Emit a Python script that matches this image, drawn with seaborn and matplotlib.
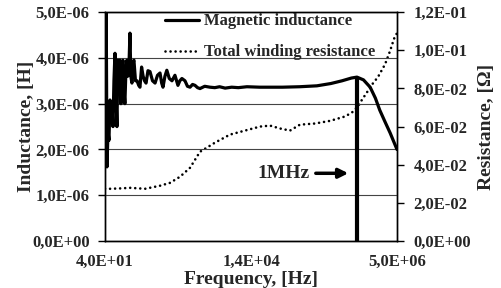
import matplotlib

matplotlib.use("Agg")
import matplotlib.pyplot as plt
import pandas as pd
import seaborn as sns
from matplotlib.ticker import FixedLocator, FuncFormatter

# magnetic inductance, frequency in Hz and inductance in microhenry
ind_freq = [40, 41.6, 43.3, 45.1, 46.9, 48.9, 50.8, 52.9, 55.1, 57.3, 59.7,
            62.1, 64.6, 67.2, 70.0, 72.8, 75.8, 78.9, 82.1, 85.5, 88.9, 92.6,
            96.3, 100, 104, 109, 113, 118, 123, 128, 136, 145, 155, 163, 174,
            185, 196, 208, 225, 244, 270, 299, 330, 365, 390, 411, 445, 480,
            530, 590, 665, 750, 810, 880, 995, 1100, 1220, 1350, 1490, 1650,
            1820, 2200, 2720, 3300, 4000, 5000, 6500, 8500, 12000, 20000,
            50000, 100000, 200000, 350000, 550000, 800000, 1.0e6, 1.3e6,
            1.7e6, 2.1e6, 2.5e6, 3.1e6, 3.8e6, 5.0e6]
ind_uh = [2.5, 6.0, 1.62, 2.4, 2.2, 3.08, 2.6, 3.0, 2.5, 3.5, 4.1, 3.2, 2.5,
          3.95, 3.6, 3.95, 3.0, 3.6, 3.95, 3.3, 3.0, 3.7, 3.95, 3.6, 3.7, 4.54,
          3.6, 3.45, 3.9, 3.95, 3.5, 3.5, 3.4, 3.36, 3.8, 3.6, 3.5, 3.45, 3.72,
          3.7, 3.5, 3.45, 3.62, 3.67, 3.45, 3.36, 3.6, 3.73, 3.55, 3.5, 3.62,
          3.4, 3.5, 3.55, 3.5, 3.38, 3.36, 3.42, 3.4, 3.35, 3.33, 3.38, 3.36,
          3.35, 3.37, 3.34, 3.36, 3.35, 3.37, 3.36, 3.36, 3.37, 3.39, 3.44,
          3.5, 3.56, 3.58, 3.52, 3.36, 3.12, 2.86, 2.6, 2.36, 2.0]

# total winding resistance, ohm
res_freq = [40, 49, 75, 109, 200, 365, 545, 815, 1220, 1820, 2410, 3330, 6080,
            11100, 20300, 30400, 45400, 67800, 101000, 185000, 339000, 620000,
            820000, 1.04e6, 1.22e6, 1.5e6, 1.83e6, 2.33e6, 3.09e6, 3.77e6,
            4.43e6, 5.0e6]
res_ohm = [0.0274, 0.0274, 0.0276, 0.0279, 0.0274, 0.029, 0.0305, 0.0337,
           0.0384, 0.0468, 0.049, 0.0516, 0.0558, 0.0579, 0.060, 0.0605,
           0.059, 0.0579, 0.061, 0.0616, 0.063, 0.0653, 0.0674, 0.0705, 0.074,
           0.078, 0.082, 0.086, 0.0926, 0.0995, 0.106, 0.109]

x_ticks = [40, 14142, 5.0e6]
x_tick_labels = ["4,0E+01", "1,4E+04", "5,0E+06"]
mark_freq = 1.0e6
mark_uh = 3.58

ind = pd.DataFrame({"f": ind_freq, "L": [v * 1e-6 for v in ind_uh]})
res = pd.DataFrame({"f": res_freq, "R": res_ohm})

sns.set_style("ticks")
plt.rcParams["font.family"] = ["Liberation Serif", "DejaVu Serif"]
plt.rcParams["font.weight"] = "bold"

fig = plt.figure(figsize=(5.01, 2.88), dpi=100)
ax = fig.add_axes([0.2096, 0.163, 0.5828, 0.795])
ax2 = ax.twinx()

sns.lineplot(data=res, x="f", y="R", ax=ax2, color="black", lw=1.9,
             linestyle=(0, (0.01, 1.9)), dash_capstyle="round",
             label="Total winding resistance", legend=False)
sns.lineplot(data=ind, x="f", y="L", ax=ax, color="black", lw=2.3,
             label="Magnetic inductance", legend=False)
ax.vlines(mark_freq, 0, mark_uh * 1e-6, color="black", lw=3)

ax.set_zorder(ax2.get_zorder() + 1)
ax.patch.set_visible(False)

ax.set_xscale("log")
ax.set_xlim(40, 5.0e6)
ax.set_ylim(0, 5e-6)
ax2.set_ylim(0, 0.12)

ax.xaxis.set_major_locator(FixedLocator(x_ticks))
ax.xaxis.set_minor_locator(FixedLocator([]))
ax.set_xticklabels(x_tick_labels)
ax.set_yticks([i * 1e-6 for i in range(6)])
ax2.set_yticks([i * 0.02 for i in range(7)])
sci = FuncFormatter(lambda v, p: f"{v:.1E}".replace(".", ","))
ax.yaxis.set_major_formatter(sci)
ax2.yaxis.set_major_formatter(sci)

ax.grid(axis="y", color="#444444", lw=0.8)
for a in (ax, ax2):
    for s in a.spines.values():
        s.set_color("black")
        s.set_linewidth(1.0)
    a.tick_params(labelsize=12, length=5, width=1, color="black", pad=6)
ax2.tick_params(pad=7)
ax.tick_params(axis="x", length=0, pad=9)

ax.set_xlabel("Frequency, [Hz]", fontsize=14, fontweight="bold", labelpad=1)
ax.set_ylabel("Inductance, [H]", fontsize=14, fontweight="bold", labelpad=-2)
ax2.set_ylabel("Resistance, [\u03a9]", fontsize=14, fontweight="bold",
               rotation=90, labelpad=5)

ax.annotate("1MHz", xy=(7.9e5, 1.48e-6), xytext=(1.5e5, 1.48e-6),
            fontsize=14, fontweight="bold", ha="right", va="center",
            arrowprops=dict(arrowstyle="-|>", color="black", lw=2.5,
                            mutation_scale=14))

h1, l1 = ax.get_legend_handles_labels()
h2, l2 = ax2.get_legend_handles_labels()
ax.legend(h1 + h2, l1 + l2, loc="upper left", bbox_to_anchor=(0.155, 1.06),
          frameon=False, handlelength=2.0, handletextpad=0.35,
          labelspacing=0.9, prop={"weight": "bold", "size": 12})

fig.savefig("out.png", dpi=100)
